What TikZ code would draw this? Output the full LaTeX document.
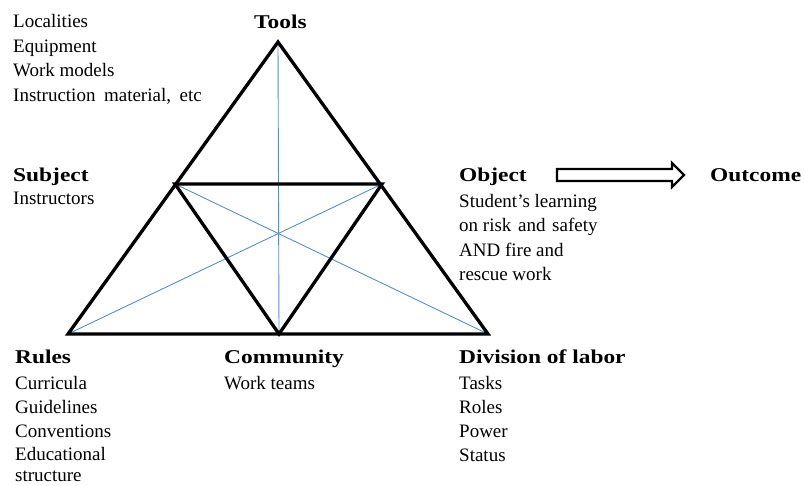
\documentclass[tikz,border=0pt]{standalone}
\usepackage{fontspec}
\setmainfont{Liberation Serif}
\newfontfamily\hdfont[FakeStretch=1.2]{Liberation Serif}
\begin{document}
\begin{tikzpicture}[x=1pt,y=-1pt,
  tri/.style={line width=3.3pt,line join=miter,line cap=round},
  blue line/.style={line width=0.9pt,draw={rgb,255:red,91;green,141;blue,205}},
  head/.style={anchor=base west,inner sep=0pt,font=\hdfont\bfseries\fontsize{19.5}{24}\selectfont},
  body/.style={anchor=base west,inner sep=0pt,font=\fontsize{19}{24}\selectfont},
  hollow arrow/.style={line width=2.3pt,line join=miter}]
\useasboundingbox (0,0) rectangle (805,486);
% vertices
\coordinate (T) at (278,42);
\coordinate (S) at (175,184);
\coordinate (O) at (382,184);
\coordinate (L) at (68,334);
\coordinate (M) at (279,334);
\coordinate (R) at (488,334);
% blue lines
\draw[blue line] (T) -- (M);
\draw[blue line] (S) -- (R);
\draw[blue line] (O) -- (L);
% black triangles
\draw[tri] (T) -- (L) -- (R) -- cycle;
\draw[tri] (S) -- (O) -- (M) -- cycle;
% headings
\node[head] (tools) at (254,29) {Tools};
\node[head] (subject) at (13,182) {Subject};
\node[head] (object) at (459,182) {Object};
\node[head] (outcome) at (710,182) {Outcome};
\node[head] (rules) at (15,363) {Rules};
\node[head] (community) at (224,363) {Community};
\node[head] (division) at (459,363) {Division of labor};
% tools list
\node[body] (t1) at (13,28) {Localities};
\node[body] (t2) at (13,53) {Equipment};
\node[body] (t3) at (13,77) {Work models};
\node[body] (t4) at (13,102) {Instruction\hspace{0.45em}material,\hspace{0.45em}etc};
% subject
\node[body] (s1) at (13,205) {Instructors};
% object
\node[body] (o1) at (459,208) {Student's learning};
\node[body] (o2) at (459,232) {on risk\hspace{0.35em}and\hspace{0.35em}safety};
\node[body] (o3) at (459,256) {AND fire and};
\node[body] (o4) at (459,280) {rescue work};
% rules
\node[body] (r1) at (15,389) {Curricula};
\node[body] (r2) at (15,413) {Guidelines};
\node[body] (r3) at (15,437) {Conventions};
\node[body] (r4) at (15,460) {Educational};
\node[body] (r5) at (15,481) {structure};
% community
\node[body] (c1) at (224,389) {Work teams};
% division
\node[body] (d1) at (459,389) {Tasks};
\node[body] (d2) at (459,413) {Roles};
\node[body] (d3) at (459,437) {Power};
\node[body] (d4) at (459,461) {Status};
% hollow arrow
\coordinate (A) at (557,175);
\draw[hollow arrow] (A) ++(0,-6) -- ++(115,0) -- ++(0,-6) -- ++(12,12) -- ++(-12,12) -- ++(0,-6) -- ++(-115,0) -- cycle;
\end{tikzpicture}
\end{document}
